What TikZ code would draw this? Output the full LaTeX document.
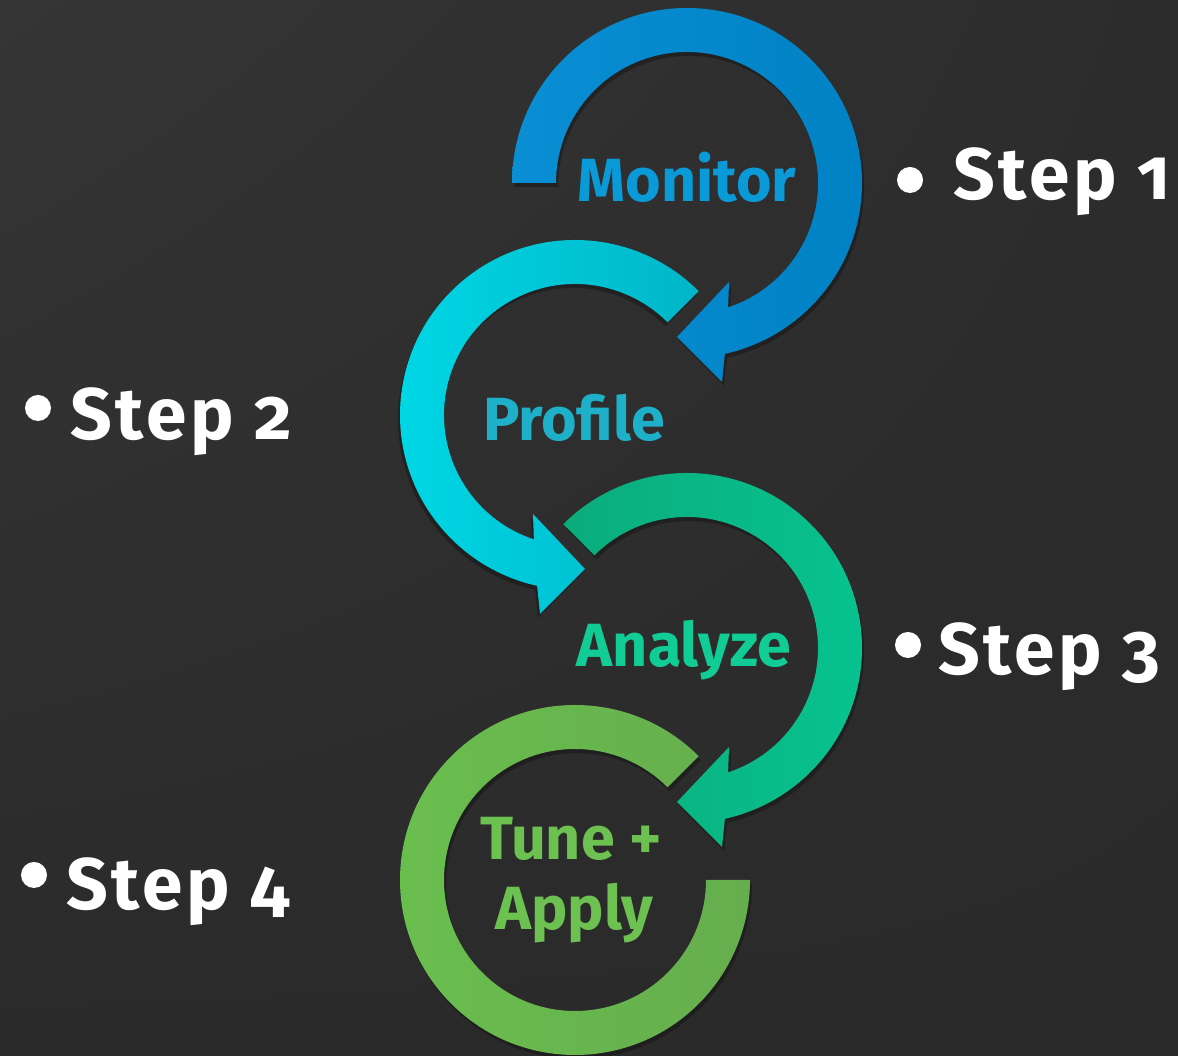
\documentclass[tikz,border=0pt]{standalone}
\usepackage{fontspec}
\setmainfont{Fira Sans}[Numbers=OldStyle]
\usetikzlibrary{calc,shadings}
\definecolor{bgA}{HTML}{353535}
\definecolor{bgB}{HTML}{2C2C2C}
\definecolor{bgC}{HTML}{2A2A2A}
\definecolor{blueL}{HTML}{0A8ED4}
\definecolor{blueM}{HTML}{03A2E4}
\definecolor{blueR}{HTML}{0082C4}
\definecolor{cyanL}{HTML}{00B6C8}
\definecolor{cyanM}{HTML}{00D4E0}
\definecolor{cyanR}{HTML}{00D8E6}
\definecolor{tealL}{HTML}{0BAC7C}
\definecolor{tealM}{HTML}{00D89C}
\definecolor{tealR}{HTML}{07C490}
\definecolor{grnL}{HTML}{6ABF4E}
\definecolor{grnM}{HTML}{74C957}
\definecolor{grnR}{HTML}{66AD4E}
\definecolor{txtBlue}{HTML}{0A9AD8}
\definecolor{txtCyan}{HTML}{1EB0C8}
\definecolor{txtTeal}{HTML}{12CC96}
\definecolor{txtGrn}{HTML}{6CC150}
\newcommand\cwpath[1]{(#1:175) arc[start angle=#1, end angle=-77.5, radius=175] -- (35,-199) -- (-10,-154) -- (42,-99) -- (-71.7:131) arc[start angle=-71.7, end angle=#1, radius=131] -- cycle}
\newcommand\ringpath{(45:175) arc[start angle=45, end angle=360, radius=175] -- (0:131) arc[start angle=360, end angle=45, radius=131] -- cycle}
\tikzset{
  shadowfill/.style={fill=black, opacity=0.28},
  lbl/.style={font=\bfseries\fontsize{61}{70}\selectfont, anchor=base, inner sep=0pt},
  steptext/.style={font=\bfseries\fontsize{73}{80}\selectfont\addfontfeatures{LetterSpace=5}, text=white, anchor=base west, inner sep=0pt},
  bulletdot/.style={circle, fill=white, minimum size=26pt, inner sep=0pt}
}
\begin{document}
\begin{tikzpicture}[x=1pt,y=1pt]
\useasboundingbox (0,0) rectangle (1178,1056);
\shade[upper left=bgA, upper right=bgB, lower left=bgC, lower right=bgC] (0,0) rectangle (1178,1056);
% shadows
\fill[shadowfill, shift={(689,869)}] \cwpath{180};
\fill[shadowfill, shift={(573,637)}, xscale=-1] \cwpath{135};
\fill[shadowfill, shift={(689,404)}] \cwpath{135};
\fill[shadowfill, shift={(577,172)}] \ringpath;
% arrow 1 (Monitor)
\shade[shift={(687,873)}, left color=blueL, middle color=blueM, right color=blueR] \cwpath{180};
% arrow 2 (Profile)
\shade[shift={(575,641)}, xscale=-1, left color=cyanR, middle color=cyanM, right color=cyanL] \cwpath{135};
% arrow 3 (Analyze)
\shade[shift={(687,408)}, left color=tealL, middle color=tealM, right color=tealR] \cwpath{135};
% arrow 4 (Tune + Apply)
\shade[shift={(575,176)}, left color=grnL, middle color=grnM, right color=grnR] \ringpath;
% labels
\node[lbl, text=txtBlue] (monitor) at (687,854) {Monitor};
\node[lbl, text=txtCyan] (profile) at (574,615) {Profile};
\node[lbl, text=txtTeal] (analyze) at (684,389) {Analyze};
\node[lbl, text=txtGrn] (tune) at (571,196) {Tune +};
\node[lbl, text=txtGrn] (apply) at (574.5,126) {Apply};
% steps
\node[bulletdot] (b1) at (910,876) {};
\node[steptext] (s1) at (953,856) {Step 1};
\node[bulletdot] (b2) at (38,648) {};
\node[steptext] (s2) at (70,616) {Step 2};
\node[bulletdot] (b3) at (908,411) {};
\node[steptext] (s3) at (938,381) {Step 3};
\node[bulletdot] (b4) at (34,181) {};
\node[steptext] (s4) at (66,146) {Step 4};
\end{tikzpicture}
\end{document}
